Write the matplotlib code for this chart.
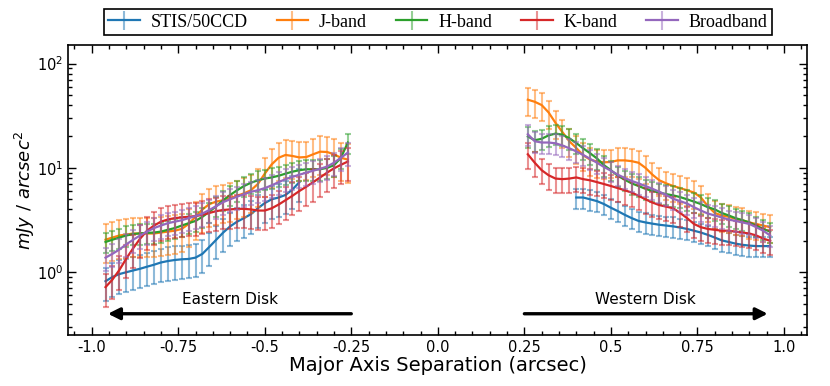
import numpy as np
import matplotlib
matplotlib.use('Agg')
import matplotlib.pyplot as plt
from matplotlib.colors import to_rgba
from matplotlib.ticker import MultipleLocator, FixedLocator, FixedFormatter

# posiciones (arcsec) de cada lado del disco
x_este = [-0.96, -0.94, -0.92, -0.90, -0.88, -0.86, -0.84, -0.82, -0.80, -0.78, -0.76, -0.74,
          -0.72, -0.70, -0.68, -0.66, -0.64, -0.62, -0.60, -0.58, -0.56, -0.54, -0.52, -0.50,
          -0.48, -0.46, -0.44, -0.42, -0.40, -0.38, -0.36, -0.34, -0.32, -0.30, -0.28, -0.26]
x_oeste = [0.26, 0.28, 0.30, 0.32, 0.34, 0.36, 0.38, 0.40, 0.42, 0.44, 0.46, 0.48,
           0.50, 0.52, 0.54, 0.56, 0.58, 0.60, 0.62, 0.64, 0.66, 0.68, 0.70, 0.72,
           0.74, 0.76, 0.78, 0.80, 0.82, 0.84, 0.86, 0.88, 0.90, 0.92, 0.94, 0.96]

# STIS solo cubre de -0.96 a -0.40 y de 0.40 a 0.96
stis_este = [0.82, 0.90, 0.96, 1.00, 1.04, 1.08, 1.13, 1.18, 1.24, 1.28, 1.31, 1.33,
             1.34, 1.38, 1.50, 1.75, 2.05, 2.40, 2.75, 3.05, 3.30, 3.60, 4.10, 4.60,
             5.00, 5.20, 5.50, 6.20, 7.30]
stis_oeste = [5.2, 5.2, 5.0, 4.8, 4.5, 4.15, 3.85, 3.55, 3.3, 3.1, 3.0, 2.92, 2.85, 2.8,
              2.75, 2.68, 2.6, 2.5, 2.4, 2.28, 2.15, 2.02, 1.95, 1.88, 1.83, 1.8, 1.78, 1.78, 1.78]

j_este = [2.05, 2.15, 2.25, 2.30, 2.35, 2.35, 2.35, 2.35, 2.40, 2.45, 2.50, 2.60,
          2.90, 3.40, 4.00, 4.50, 4.75, 4.90, 5.10, 5.40, 5.70, 6.10, 7.00, 8.80,
          10.8, 12.5, 13.3, 13.0, 12.6, 12.7, 13.5, 14.3, 14.2, 13.5, 12.5, 12.0]
j_oeste = [45, 43, 40, 34, 27, 22, 18, 15.5, 13.2, 12.0, 11.5, 11.3,
           11.4, 11.8, 11.8, 11.6, 11.2, 10.0, 8.6, 7.6, 7.1, 6.7, 6.4, 6.1,
           5.8, 5.2, 4.3, 3.7, 3.5, 3.4, 3.25, 3.15, 3.0, 2.9, 2.8, 2.7]

h_este = [1.95, 2.05, 2.15, 2.25, 2.32, 2.36, 2.38, 2.40, 2.45, 2.55, 2.65, 2.80,
          2.95, 3.10, 3.40, 3.80, 4.30, 4.90, 5.50, 6.10, 6.70, 7.20, 7.60, 7.90,
          8.10, 8.40, 8.80, 9.20, 9.50, 9.70, 9.70, 9.70, 10.0, 10.6, 12.5, 17.5]
h_oeste = [20, 18.4, 19, 20.5, 21.3, 20.8, 19.2, 17.3, 15.4, 13.8, 12.3, 10.6,
           9.5, 8.4, 7.7, 7.1, 6.7, 6.3, 6.0, 5.8, 5.6, 5.45, 5.25, 5.0,
           4.75, 4.5, 4.2, 4.0, 3.7, 3.5, 3.3, 3.15, 3.0, 2.8, 2.6, 2.45]

k_este = [0.72, 0.85, 1.05, 1.35, 1.70, 2.10, 2.50, 2.80, 3.05, 3.20, 3.30, 3.35,
          3.40, 3.45, 3.55, 3.70, 3.85, 3.95, 4.00, 4.05, 4.05, 4.00, 3.90, 3.90,
          4.10, 4.45, 4.90, 5.40, 6.00, 6.60, 7.30, 8.10, 9.00, 9.90, 10.7, 11.5]
k_oeste = [13.5, 11.2, 9.5, 8.5, 7.9, 7.8, 7.9, 8.1, 7.8, 7.6, 7.3, 7.0,
           6.7, 6.4, 6.1, 5.8, 5.4, 5.0, 4.65, 4.4, 4.25, 4.1, 3.7, 3.3,
           2.9, 2.7, 2.6, 2.55, 2.5, 2.5, 2.45, 2.4, 2.35, 2.25, 2.1, 2.0]

bb_este = [1.38, 1.50, 1.65, 1.85, 2.05, 2.25, 2.45, 2.65, 2.80, 2.95, 3.05, 3.15,
           3.30, 3.45, 3.65, 3.95, 4.30, 4.70, 5.00, 5.30, 5.60, 5.90, 6.10, 6.40,
           6.80, 7.30, 7.80, 8.20, 8.60, 9.00, 9.40, 9.80, 10.3, 11.2, 12.5, 14.0]
bb_oeste = [21, 18, 17.5, 17.5, 17.2, 16.4, 15.4, 14.4, 13.3, 12.2, 11.2, 10.2,
            9.4, 8.6, 8.0, 7.5, 7.1, 6.7, 6.3, 5.9, 5.5, 5.05, 4.8, 4.55,
            4.2, 3.9, 3.65, 3.5, 3.35, 3.2, 3.1, 3.0, 2.9, 2.7, 2.5, 2.25]

# error relativo estimado de cada banda (este, oeste)
err_rel = {'STIS/50CCD': (0.35, 0.22), 'J-band': (0.40, 0.30), 'H-band': (0.22, 0.22),
           'K-band': (0.35, 0.27), 'Broadband': (0.25, 0.22)}

nombres = ['STIS/50CCD', 'J-band', 'H-band', 'K-band', 'Broadband']
colores = ['#1f77b4', '#ff7f0e', '#2ca02c', '#d62728', '#9467bd']
datos = {'STIS/50CCD': (stis_este, stis_oeste), 'J-band': (j_este, j_oeste),
         'H-band': (h_este, h_oeste), 'K-band': (k_este, k_oeste),
         'Broadband': (bb_este, bb_oeste)}

xticks = [-1.0, -0.75, -0.5, -0.25, 0.0, 0.25, 0.5, 0.75, 1.0]
xtick_labels = ['-1.0', '-0.75', '-0.5', '-0.25', '0.0', '0.25', '0.5', '0.75', '1.0']

fig = plt.figure(figsize=(8.3, 3.86), dpi=100)
ax = fig.add_axes([0.0825, 0.132, 0.89, 0.751])

for nombre, color in zip(nombres, colores):
    este, oeste = datos[nombre]
    e_este, e_oeste = err_rel[nombre]
    xe = x_este[:len(este)]
    xo = x_oeste[len(x_oeste) - len(oeste):]
    for xs, ys, er in [(xe, este, e_este), (xo, oeste, e_oeste)]:
        ys = np.array(ys)
        ax.errorbar(xs, ys, yerr=ys * er, fmt='none', ecolor=color, alpha=0.5,
                    elinewidth=1.5, capsize=2, capthick=1.5)
        ax.plot(xs, ys, color=color, lw=1.6)
    # entrada para la leyenda (barra semitransparente como en la grafica)
    ax.errorbar([], [], yerr=[], color=color, lw=1.6, capsize=2, label=nombre,
                ecolor=to_rgba(color, 0.5), elinewidth=1.5)

ax.set_yscale('log')
ax.set_ylim(0.25, 150)
ax.set_xlim(-1.067, 1.067)
ax.xaxis.set_major_locator(FixedLocator(xticks))
ax.xaxis.set_major_formatter(FixedFormatter(xtick_labels))
ax.xaxis.set_minor_locator(MultipleLocator(0.05))
ax.tick_params(which='both', direction='in', top=True, right=True, labelsize=10.5)
ax.tick_params(which='major', length=6, width=1)
ax.tick_params(which='minor', length=3, width=1)
for s in ax.spines.values():
    s.set_linewidth(1.2)

ax.set_xlabel('Major Axis Separation (arcsec)', fontsize=14, labelpad=1)
ax.set_ylabel(r'$mJy\ /\ arcsec^2$', fontsize=13, labelpad=0)

# flechas y textos de cada lado
estilo = dict(arrowstyle='-|>,head_length=0.7,head_width=0.35', color='k', lw=2.4,
              mutation_scale=10, shrinkA=0, shrinkB=0)
ax.annotate('', xy=(-0.953, 0.40), xytext=(-0.25, 0.40), arrowprops=estilo)
ax.annotate('', xy=(0.953, 0.40), xytext=(0.25, 0.40), arrowprops=estilo)
ax.text(-0.6, 0.55, 'Eastern Disk', ha='center', va='center', fontsize=11)
ax.text(0.6, 0.55, 'Western Disk', ha='center', va='center', fontsize=11)

leg = ax.legend(loc='lower center', bbox_to_anchor=(0.5, 1.034), ncol=5,
                prop={'family': 'Liberation Serif', 'size': 13}, fancybox=False,
                edgecolor='k', framealpha=1, borderpad=0.25, columnspacing=1.6,
                handlelength=1.75, handletextpad=0.6, borderaxespad=0)
leg.get_frame().set_linewidth(1.2)

plt.savefig('out.png', dpi=100)
plt.close()
